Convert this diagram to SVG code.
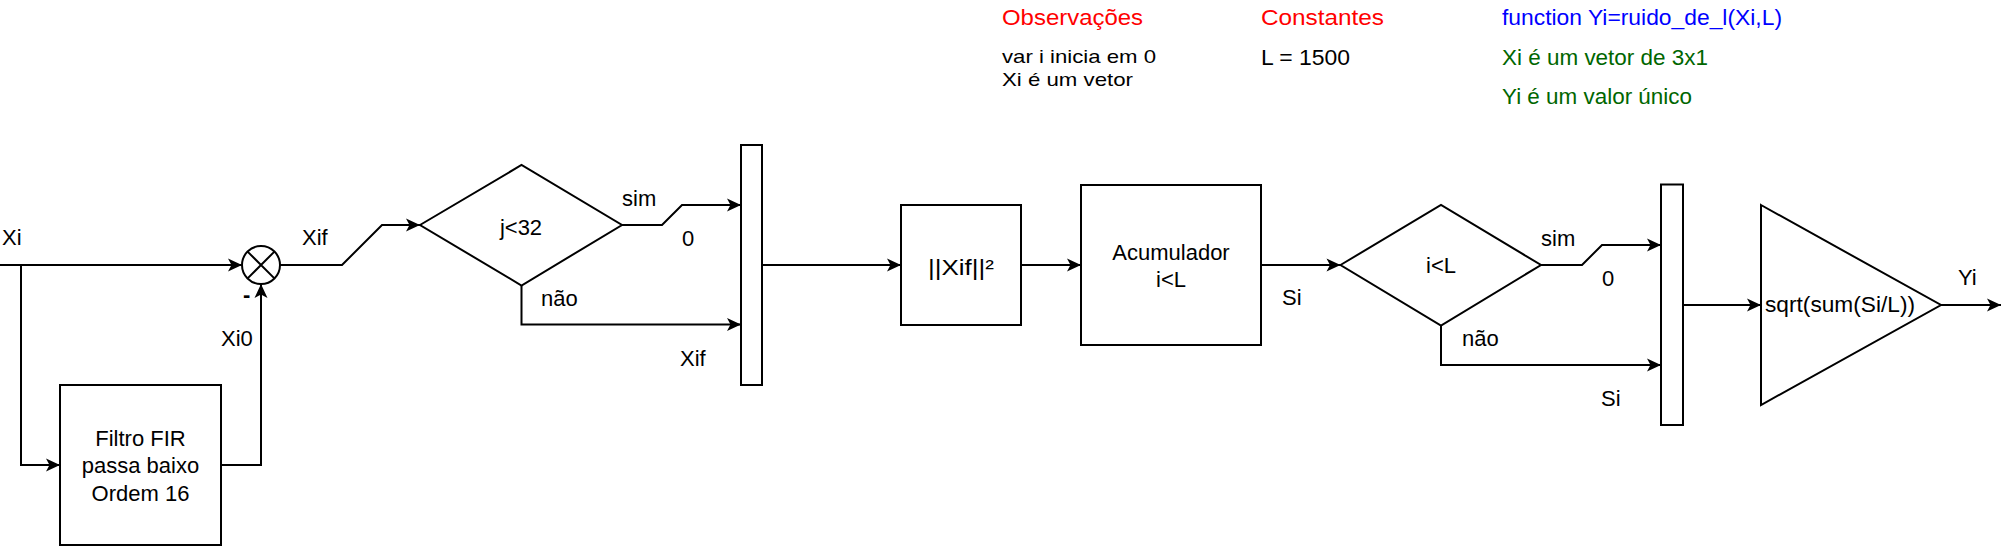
<svg xmlns="http://www.w3.org/2000/svg" width="2005" height="548" viewBox="0 0 2005 548">
<style>
  text { font-family: "Liberation Sans", Arial, sans-serif; font-size: 22px; fill: #000; }
  .c { text-anchor: middle; }
  .red { fill: #ff0000; }
  .blue { fill: #0000ff; }
  .green { fill: #006600; }
  .tight { font-size: 19px; }
  .shape { fill: #fff; stroke: #000; stroke-width: 2; }
  .edge { fill: none; stroke: #000; stroke-width: 2; marker-end: url(#arr); }
</style>
<defs>
  <marker id="arr" markerUnits="userSpaceOnUse" markerWidth="16" markerHeight="14" refX="15" refY="7" orient="auto" viewBox="0 0 16 14">
    <path d="M1,0.5 L15,7 L1,13.5 L4.5,7 Z" fill="#000"/>
  </marker>
</defs>
<rect width="2005" height="548" fill="#fff"/>

<g id="notes">
  <text class="red" x="1002" y="25" textLength="141" lengthAdjust="spacingAndGlyphs">Observações</text>
  <text class="tight" x="1002" y="63" textLength="154" lengthAdjust="spacingAndGlyphs">var i inicia em 0</text>
  <text class="tight" x="1002" y="86" textLength="131" lengthAdjust="spacingAndGlyphs">Xi é um vetor</text>
  <text class="red" x="1261" y="25" textLength="123" lengthAdjust="spacingAndGlyphs">Constantes</text>
  <text x="1261" y="65" textLength="89" lengthAdjust="spacingAndGlyphs">L = 1500</text>
  <text class="blue" x="1502" y="25" textLength="280" lengthAdjust="spacingAndGlyphs">function Yi=ruido_de_l(Xi,L)</text>
  <text class="green" x="1502" y="65" textLength="206" lengthAdjust="spacingAndGlyphs">Xi é um vetor de 3x1</text>
  <text class="green" x="1502" y="104" textLength="190" lengthAdjust="spacingAndGlyphs">Yi é um valor único</text>
</g>

<g id="connectors">
  <path class="edge" d="M0,265 H242"/>
  <path class="edge" d="M21,265 V465 H60"/>
  <path class="edge" d="M221,465 H261 V284"/>
  <path class="edge" d="M280,265 H342 L382,225 H420"/>
  <path class="edge" d="M622,225 H662 L682,205 H741"/>
  <path class="edge" d="M521.5,285.5 V324.5 H741"/>
  <path class="edge" d="M762,265 H901"/>
  <path class="edge" d="M1021,265 H1081"/>
  <path class="edge" d="M1261,265 H1340.5"/>
  <path class="edge" d="M1541,265 H1582 L1602,245 H1661"/>
  <path class="edge" d="M1441,325.5 V365 H1661"/>
  <path class="edge" d="M1683,305 H1761"/>
  <path class="edge" d="M1941,305 H2001"/>
</g>

<g id="labels">
  <text x="2" y="245">Xi</text>
  <text x="302" y="245">Xif</text>
  <text x="243" y="302" style="font-weight:bold">-</text>
  <text x="221" y="346">Xi0</text>
  <text x="622" y="206">sim</text>
  <text x="682" y="246">0</text>
  <text x="541" y="306">não</text>
  <text x="680" y="366">Xif</text>
  <text x="1282" y="305">Si</text>
  <text x="1541" y="246">sim</text>
  <text x="1602" y="286">0</text>
  <text x="1462" y="346">não</text>
  <text x="1601" y="406">Si</text>
  <text x="1958" y="285">Yi</text>
</g>

<g id="filter">
  <rect class="shape" x="60" y="385" width="161" height="160"/>
  <text class="c" x="140.5" y="446">Filtro FIR</text>
  <text class="c" x="140.5" y="473">passa baixo</text>
  <text class="c" x="140.5" y="501">Ordem 16</text>
</g>

<g id="sum">
  <circle class="shape" cx="261" cy="265" r="19"/>
  <path d="M247.6,251.6 L274.4,278.4 M274.4,251.6 L247.6,278.4" stroke="#000" stroke-width="2"/>
</g>

<g id="decision1">
  <polygon class="shape" points="420,225 521.5,165 622,225 521.5,285.5"/>
  <text class="c" x="521" y="235">j&lt;32</text>
</g>

<g id="mux1">
  <rect class="shape" x="741" y="145" width="21" height="240"/>
</g>

<g id="norm">
  <rect class="shape" x="901" y="205" width="120" height="120"/>
  <text class="c" x="961" y="275" textLength="66" lengthAdjust="spacingAndGlyphs">||Xif||²</text>
</g>

<g id="acc">
  <rect class="shape" x="1081" y="185" width="180" height="160"/>
  <text class="c" x="1171" y="260">Acumulador</text>
  <text class="c" x="1171" y="287">i&lt;L</text>
</g>

<g id="decision2">
  <polygon class="shape" points="1340.5,265 1441,205 1541,265 1441,325.5"/>
  <text class="c" x="1441" y="273">i&lt;L</text>
</g>

<g id="mux2">
  <rect class="shape" x="1661" y="184.5" width="22" height="240.5"/>
</g>

<g id="output">
  <polygon class="shape" points="1761,205 1941,305 1761,405"/>
  <text x="1765" y="312" textLength="150" lengthAdjust="spacingAndGlyphs">sqrt(sum(Si/L))</text>
</g>
</svg>
